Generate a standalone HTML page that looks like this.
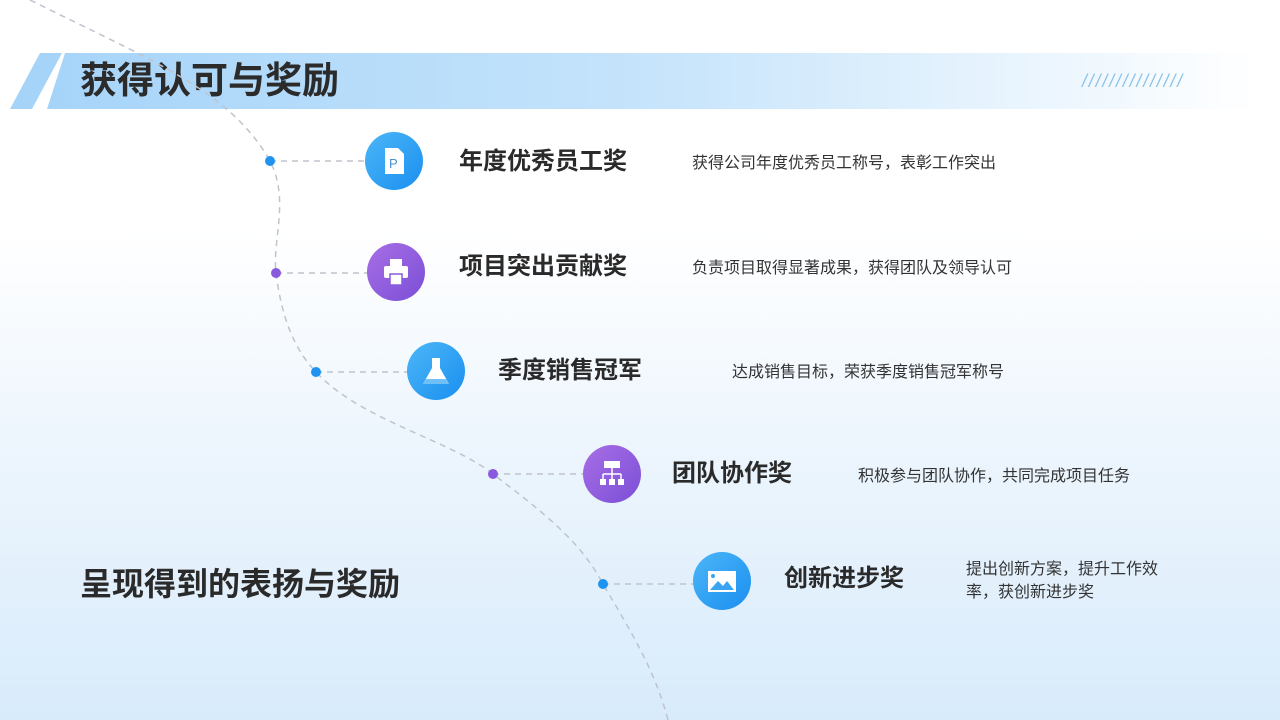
<!DOCTYPE html>
<html><head><meta charset="utf-8"><style>
body{margin:0;width:1280px;height:720px;overflow:hidden;position:relative;font-family:"Liberation Sans","Noto Sans CJK SC",sans-serif;background:linear-gradient(180deg,#ffffff 0%,#ffffff 32%,#eef6fd 60%,#d8ebfb 100%);}
.t{position:absolute;font-weight:bold;font-size:24px;color:#2a2a2a;white-space:nowrap;line-height:1}
.d{position:absolute;font-size:16px;color:#333;white-space:nowrap;line-height:23px}
.ic{position:absolute;width:58px;height:58px;border-radius:50%}
.b{background:linear-gradient(135deg,#4cb6f7,#1a8ff0)}
.p{background:linear-gradient(135deg,#a86ee6,#7b4fd6)}
</style></head><body>
<div style="position:absolute;left:47px;top:53px;width:1210px;height:56px;background:linear-gradient(90deg,#a6d4f9 0%,#c6e4fb 50%,#eef7fe 85%,rgba(255,255,255,0) 100%);clip-path:polygon(18px 0,100% 0,100% 100%,0 100%)"></div>
<div style="position:absolute;left:10px;top:53px;width:52px;height:56px;background:#a6d4f9;clip-path:polygon(30px 0,52px 0,22px 100%,0 100%)"></div>
<div class="t" style="left:80px;top:62px;font-size:37px;color:#2b2b2b">获得认可与奖励</div>
<div style="position:absolute;left:1082px;top:71px;font-size:18px;color:#8cc3e8;letter-spacing:1.8px;font-style:italic">///////////////</div>
<svg width="1280" height="720" style="position:absolute;left:0;top:0">
<g fill="none" stroke="#bfc4cc" stroke-width="1.5" stroke-dasharray="6,5">
<path d="M30,0 C150,60 230,90 270,161 C290,200 272,240 276,273 C282,320 295,350 316,372 C360,420 450,440 493,474 C540,510 580,540 603,584 C630,630 655,670 668,720"/>
<line x1="270" y1="161" x2="366" y2="161"/><line x1="276" y1="273" x2="368" y2="273"/><line x1="316" y1="372" x2="408" y2="372"/><line x1="493" y1="474" x2="584" y2="474"/><line x1="603" y1="584" x2="694" y2="584"/>
</g>
<circle cx="270" cy="161" r="5" fill="#1e93f0"/><circle cx="276" cy="273" r="5" fill="#8a5ade"/><circle cx="316" cy="372" r="5" fill="#1e93f0"/><circle cx="493" cy="474" r="5" fill="#8a5ade"/><circle cx="603" cy="584" r="5" fill="#1e93f0"/>
</svg>
<div class="ic b" style="left:365px;top:132px"><svg width="58" height="58"><path d="M20,16h13l6,6v20h-19z" fill="#fff"/><text x="24" y="36" font-size="13" fill="#4a90d0" font-family="Liberation Sans">P</text></svg></div>
<div class="ic p" style="left:367px;top:243px"><svg width="58" height="58"><rect x="23" y="16" width="12" height="8" fill="#fff"/><rect x="17" y="23" width="24" height="12" rx="2" fill="#fff"/><rect x="23" y="31" width="12" height="11" fill="#fff" stroke="#8a5ade" stroke-width="1.5"/></svg></div>
<div class="ic b" style="left:407px;top:342px"><svg width="58" height="58"><path d="M25,16h8v10l9,16h-26l9,-16z" fill="#fff"/><path d="M19,37h20l3,5h-26z" fill="#6fc0f7"/></svg></div>
<div class="ic p" style="left:583px;top:445px"><svg width="58" height="58"><rect x="21" y="16" width="16" height="7" fill="#fff"/><path d="M29,23v6M20,29h18M20,29v5M29,29v5M38,29v5" stroke="#fff" stroke-width="1.5" fill="none"/><rect x="17" y="34" width="6" height="6" fill="#fff"/><rect x="26" y="34" width="6" height="6" fill="#fff"/><rect x="35" y="34" width="6" height="6" fill="#fff"/></svg></div>
<div class="ic b" style="left:693px;top:552px"><svg width="58" height="58"><rect x="15" y="19" width="28" height="21" fill="#fff"/><path d="M17,38l8,-9l5,5l4,-5l7,9z" fill="#3aa4f3"/><circle cx="20" cy="24" r="2" fill="#3aa4f3"/></svg></div>
<div class="t" style="left:459px;top:150px">年度优秀员工奖</div>
<div class="d" style="left:692px;top:152px">获得公司年度优秀员工称号，表彰工作突出</div>
<div class="t" style="left:459px;top:255px">项目突出贡献奖</div>
<div class="d" style="left:692px;top:257px">负责项目取得显著成果，获得团队及领导认可</div>
<div class="t" style="left:498px;top:359px">季度销售冠军</div>
<div class="d" style="left:732px;top:361px">达成销售目标，荣获季度销售冠军称号</div>
<div class="t" style="left:672px;top:462px">团队协作奖</div>
<div class="d" style="left:858px;top:465px">积极参与团队协作，共同完成项目任务</div>
<div class="t" style="left:784px;top:567px">创新进步奖</div>
<div class="d" style="left:966px;top:558px">提出创新方案，提升工作效<br>率，获创新进步奖</div>
<div class="t" style="left:80px;top:568px;font-size:32px">呈现得到的表扬与奖励</div>
</body></html>
